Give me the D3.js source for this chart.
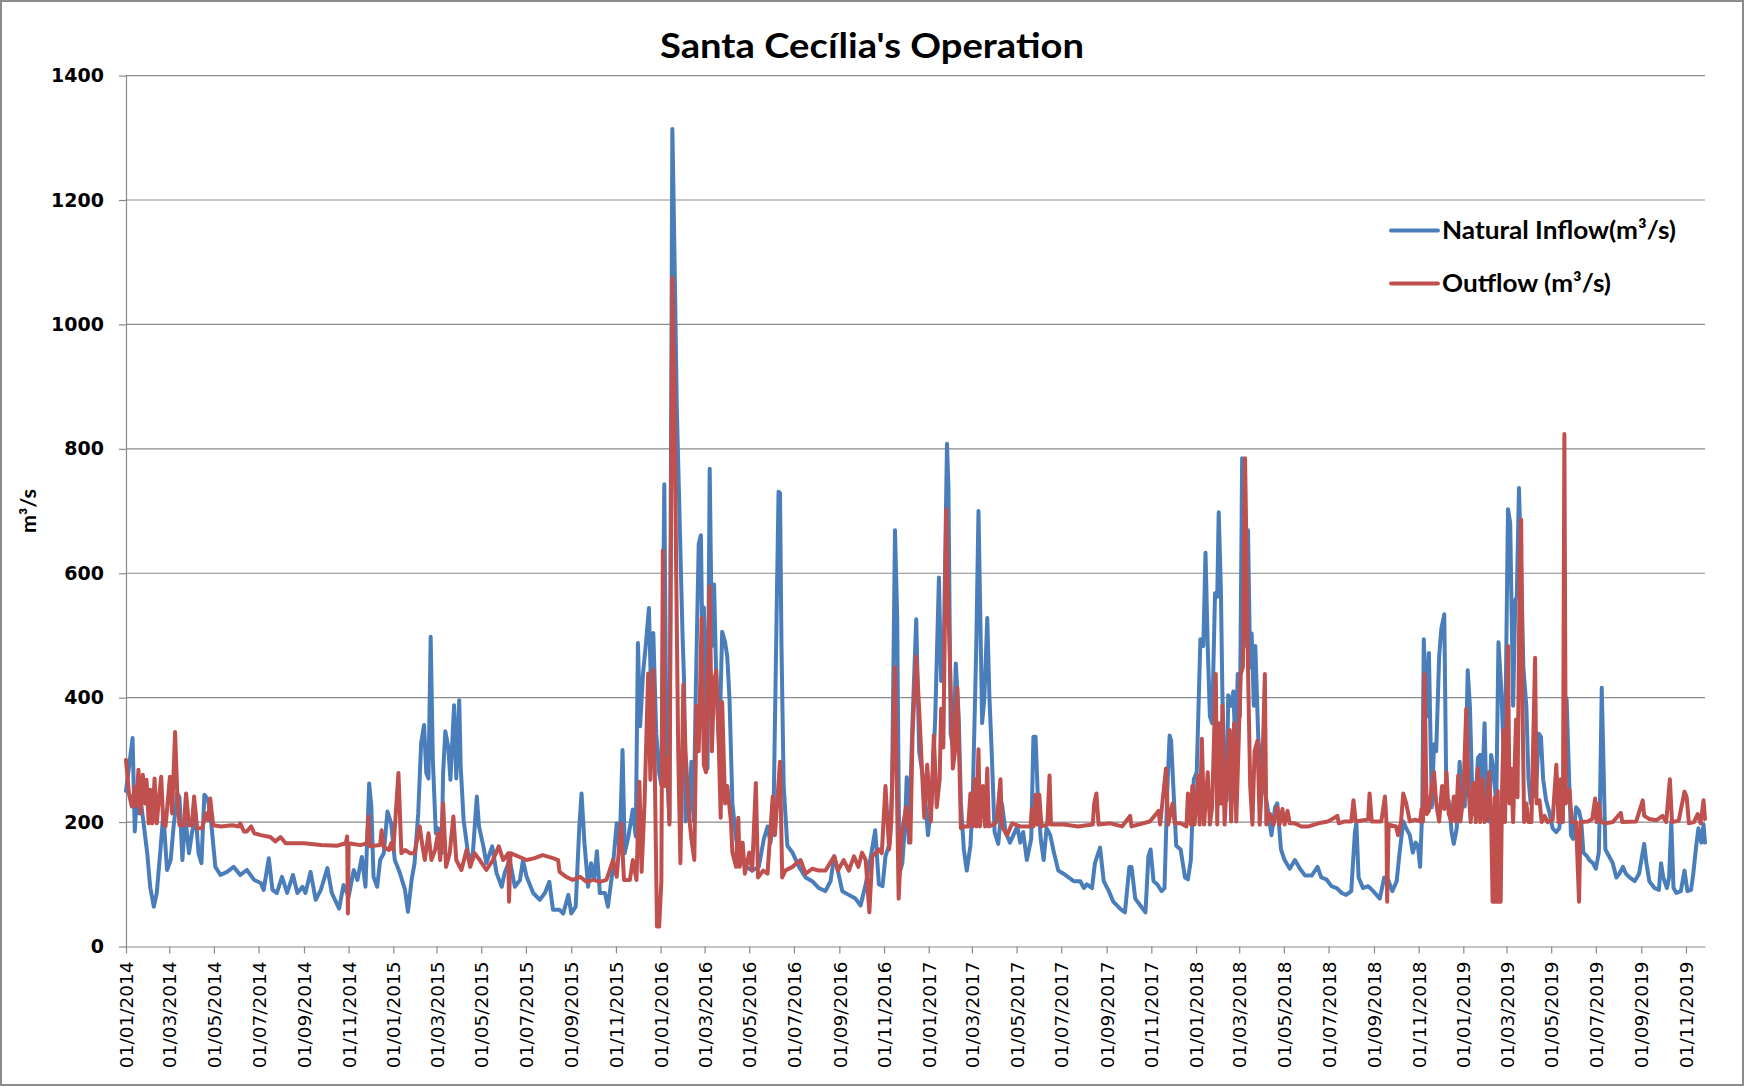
<!DOCTYPE html>
<html>
<head>
<meta charset="utf-8">
<script src="https://cdn.jsdelivr.net/npm/d3@7"></script>
<style>
  html, body { margin: 0; padding: 0; background: #ffffff; }
  svg { display: block; }
</style>
</head>
<body>
<svg id="chart" width="1744" height="1086"></svg>
<script>
// Daily operation of the Santa Cecília reservoir, Jan 2014 – Nov 2019.
// Each point is [days since 1 Jan 2014, flow in m³/s].
const startDate = Date.UTC(2014, 0, 1);
const lastDay = 2156;

const chartTitle = "Santa Cecília's Operation";
const yAxisTitle = "m³/s";
const seriesNames = ["Natural Inflow(m³/s)", "Outflow (m³/s)"];
const yTickValues = [0, 200, 400, 600, 800, 1000, 1200, 1400];

const inflow2014 = [[0,250],[9,335],[12,185],[15,246],[18,214],[20,236],[24,198],[29,150],[33,96],[38,64],[42,86],[47,155],[51,214],[56,123],[61,139],[65,193],[70,246],[73,240],[77,139],[81,209],[86,150],[90,182],[95,214],[99,150],[103,134],[107,244],[112,236],[116,203],[122,128],[129,115],[138,120],[147,128],[156,115],[165,123],[175,107],[184,102],[188,91],[195,142],[200,91],[206,86],[213,112],[220,86],[228,115],[234,86],[241,96],[245,86],[252,120],[259,75],[266,91],[275,126],[281,86],[291,61],[297,99],[304,80],[311,123],[316,107],[322,144],[327,96],[332,262],[335,225],[338,112],[343,96],[347,139],[352,150],[357,217],[362,198]];
const inflow2015 = [[367,139],[374,118],[381,91],[385,56],[390,107],[394,134],[399,214],[403,327],[407,356],[410,279],[413,270],[416,498],[419,300],[423,182],[426,190],[431,150],[433,279],[436,346],[440,321],[443,268],[448,388],[451,270],[455,396],[457,289],[461,203],[467,150],[473,139],[479,241],[482,193],[488,161],[492,134],[500,161],[506,118],[513,96],[517,118],[524,139],[531,96],[538,107],[542,139],[547,112],[556,86],[565,75],[572,86],[578,104],[583,59],[592,59],[597,53],[604,83],[608,53],[614,64],[619,193],[622,246],[626,166],[631,96],[635,134],[639,107],[643,153],[647,86],[654,86],[658,64],[664,118],[670,198],[674,155],[678,316],[681,150],[686,177],[692,220],[696,177],[699,488],[702,354],[706,439],[710,488],[714,544],[717,407],[720,504],[724,343],[728,279]];
const inflow2016 = [[731,260],[735,743],[738,314],[742,201],[746,1314],[747,1250],[750,1030],[752,870],[760,497],[762,427],[764,201],[769,218],[772,297],[775,201],[778,410],[782,647],[785,661],[787,483],[789,545],[792,416],[794,286],[797,768],[800,483],[803,582],[806,427],[810,314],[814,506],[818,489],[821,466],[824,399],[828,230],[833,173],[837,151],[846,128],[855,122],[864,128],[871,173],[876,193],[880,167],[884,201],[888,506],[891,731],[893,729],[895,483],[898,258],[903,162],[910,151],[919,128],[928,111],[937,105],[946,94],[955,89],[962,105],[967,145],[972,122],[978,89],[987,83],[996,77],[1003,66],[1010,100],[1017,145],[1023,187],[1028,100],[1033,97],[1037,145],[1043,167],[1046,258],[1050,669],[1053,528],[1056,117],[1060,134],[1064,201],[1066,272],[1069,167],[1074,365],[1079,526],[1083,314],[1090,258],[1095,179]];
const inflow2017 = [[1100,230],[1105,370],[1110,593],[1113,427],[1116,433],[1121,808],[1123,737],[1126,342],[1130,314],[1133,455],[1137,370],[1140,230],[1144,156],[1148,122],[1153,162],[1156,230],[1161,483],[1164,700],[1169,359],[1172,399],[1176,528],[1179,399],[1182,314],[1186,184],[1191,165],[1196,230],[1201,184],[1207,167],[1217,193],[1221,167],[1225,184],[1230,139],[1236,173],[1239,337],[1242,337],[1245,241],[1249,173],[1253,139],[1257,190],[1262,179],[1267,151],[1273,122],[1280,117],[1287,111],[1294,105],[1303,105],[1308,94],[1312,100],[1319,94],[1323,134],[1330,159],[1335,105],[1342,89],[1348,72],[1358,60],[1364,55],[1370,128],[1373,128],[1378,77],[1385,66],[1392,55],[1396,145],[1399,156],[1403,105],[1408,100],[1414,89],[1418,94],[1422,258],[1425,339],[1427,331],[1430,258],[1434,162],[1440,156],[1446,111],[1450,108],[1454,139],[1458,269]];
const inflow2018 = [[1462,280],[1467,494],[1471,483],[1474,633],[1477,483],[1480,370],[1483,359],[1487,568],[1490,562],[1492,698],[1495,573],[1497,410],[1499,314],[1503,235],[1505,404],[1509,387],[1512,410],[1515,314],[1518,438],[1521,370],[1524,785],[1527,782],[1530,483],[1532,669],[1535,449],[1537,503],[1540,387],[1542,483],[1546,337],[1550,275],[1554,258],[1560,213],[1564,179],[1569,224],[1572,230],[1577,156],[1582,139],[1589,125],[1596,139],[1603,125],[1610,114],[1619,114],[1627,128],[1632,111],[1639,108],[1646,97],[1653,94],[1660,86],[1666,83],[1673,89],[1678,184],[1680,198],[1683,111],[1689,94],[1696,97],[1703,89],[1712,77],[1718,111],[1723,108],[1729,89],[1735,105],[1739,151],[1744,201],[1748,190],[1753,179],[1757,151],[1761,167],[1764,162],[1767,128],[1770,224],[1772,494],[1776,370],[1779,472],[1783,224],[1786,325],[1789,314],[1793,466],[1796,511],[1800,534],[1803,224],[1806,235],[1810,184],[1813,165],[1817,190],[1821,297],[1824,245]];
const inflow2019 = [[1828,225],[1832,444],[1835,387],[1839,213],[1842,218],[1846,303],[1849,308],[1852,258],[1855,359],[1858,213],[1861,201],[1864,308],[1867,286],[1871,230],[1874,489],[1878,410],[1881,314],[1884,410],[1887,703],[1890,681],[1894,387],[1897,557],[1899,562],[1902,737],[1905,607],[1908,449],[1912,387],[1915,269],[1918,230],[1922,286],[1925,241],[1929,342],[1932,337],[1935,269],[1939,235],[1943,218],[1948,190],[1953,184],[1957,190],[1961,230],[1964,258],[1967,399],[1970,286],[1973,179],[1976,173],[1980,224],[1984,218],[1987,201],[1990,151],[1995,145],[1998,139],[2003,134],[2007,125],[2011,151],[2013,258],[2015,416],[2017,314],[2020,156],[2025,145],[2030,134],[2035,111],[2039,117],[2044,128],[2048,117],[2053,111],[2060,105],[2066,117],[2070,145],[2073,165],[2076,134],[2080,105],[2087,94],[2093,91],[2096,134],[2099,111],[2104,94],[2107,111],[2110,201],[2113,94],[2117,86],[2123,89],[2128,122],[2132,89],[2137,91],[2140,117],[2144,162],[2147,190],[2151,167],[2154,196],[2156,167]];

const outflow2014 = [[0,300],[4,246],[8,225],[12,257],[14,225],[17,284],[20,214],[23,276],[26,230],[28,268],[31,198],[33,252],[36,198],[39,270],[42,198],[44,225],[48,273],[51,198],[54,193],[60,273],[63,214],[67,345],[70,246],[73,195],[79,195],[82,246],[86,195],[90,195],[93,241],[97,190],[104,190],[109,214],[112,203],[115,238],[119,195],[130,193],[145,195],[154,193],[156,198],[161,185],[165,185],[171,193],[175,182],[184,179],[197,176],[204,169],[211,176],[218,166],[243,166],[266,163],[288,162],[300,166],[302,177],[303,53],[304,166],[320,163],[329,166],[331,209],[333,161],[347,163],[349,187],[352,160],[359,155],[362,166]];
const outflow2015 = [[365,155],[372,279],[376,150],[381,155],[388,150],[394,150],[401,193],[405,160],[408,139],[413,182],[417,139],[422,155],[426,182],[429,139],[433,230],[437,128],[442,150],[447,209],[451,139],[458,123],[465,155],[470,128],[476,150],[483,139],[492,123],[501,139],[509,161],[515,139],[519,145],[522,150],[523,72],[525,150],[547,139],[558,142],[569,147],[583,142],[590,139],[592,120],[601,112],[610,107],[620,112],[629,104],[638,107],[647,104],[656,107],[665,139],[670,112],[676,198],[680,107],[688,107],[692,139],[697,107],[701,265],[704,120],[708,230],[713,439],[716,268],[720,445],[722,286],[725,32],[728,32]];
const outflow2016 = [[731,105],[733,636],[736,258],[739,303],[742,196],[746,1075],[749,880],[751,630],[754,314],[757,134],[761,421],[764,314],[769,207],[772,173],[776,139],[779,387],[782,314],[786,528],[789,292],[792,280],[797,579],[800,314],[803,427],[806,444],[809,342],[812,207],[814,393],[818,230],[821,258],[826,201],[828,151],[833,128],[836,207],[838,128],[842,167],[845,117],[851,151],[855,122],[860,263],[863,111],[870,122],[876,117],[883,241],[886,179],[893,297],[896,111],[900,122],[910,128],[921,139],[928,117],[937,125],[946,122],[955,122],[967,145],[972,122],[980,139],[987,122],[994,145],[1000,128],[1005,151],[1010,139],[1015,55],[1019,145],[1028,156],[1032,150],[1037,258],[1042,156],[1045,201],[1050,449],[1055,77],[1059,179],[1065,224],[1071,167],[1074,342],[1079,466],[1083,382],[1087,280],[1090,207],[1094,292]];
const outflow2017 = [[1099,201],[1103,339],[1107,224],[1111,269],[1113,382],[1116,320],[1120,703],[1123,540],[1126,416],[1129,286],[1132,314],[1135,416],[1138,292],[1140,190],[1144,193],[1150,193],[1153,246],[1156,193],[1159,269],[1161,193],[1164,317],[1166,193],[1170,258],[1173,193],[1176,286],[1178,193],[1185,196],[1189,201],[1194,269],[1196,193],[1203,179],[1210,198],[1221,193],[1235,193],[1237,221],[1239,193],[1242,244],[1244,196],[1247,244],[1250,193],[1258,196],[1261,275],[1263,196],[1280,196],[1300,193],[1320,196],[1322,230],[1325,246],[1328,196],[1344,198],[1360,193],[1371,210],[1373,193],[1398,201],[1410,218],[1412,196],[1420,286],[1423,196],[1429,230],[1432,198],[1440,198],[1448,193],[1450,246],[1454,196],[1456,258],[1459,196]];
const outflow2018 = [[1464,275],[1466,196],[1469,334],[1472,196],[1477,280],[1480,196],[1483,224],[1488,438],[1490,196],[1492,359],[1495,230],[1497,387],[1500,196],[1504,286],[1507,348],[1509,201],[1513,359],[1516,201],[1520,359],[1522,438],[1525,449],[1528,785],[1530,630],[1532,449],[1535,258],[1538,196],[1541,314],[1545,331],[1548,196],[1551,258],[1555,438],[1557,196],[1562,213],[1567,196],[1572,224],[1575,196],[1579,221],[1582,196],[1586,218],[1589,198],[1596,198],[1605,193],[1615,193],[1628,198],[1641,201],[1650,207],[1654,210],[1656,198],[1664,201],[1673,201],[1676,235],[1679,201],[1696,204],[1698,246],[1701,201],[1714,201],[1719,241],[1721,201],[1722,72],[1724,196],[1734,193],[1737,179],[1741,201],[1744,246],[1748,230],[1753,201],[1760,204],[1767,201],[1769,221],[1771,201],[1773,438],[1776,213],[1779,218],[1783,258],[1786,280],[1789,230],[1793,201],[1797,258],[1800,221],[1803,280],[1806,213],[1810,201],[1813,241],[1816,201],[1819,275],[1822,201]];
const outflow2019 = [[1826,241],[1830,382],[1833,258],[1836,200],[1840,263],[1843,200],[1846,286],[1849,200],[1852,269],[1855,200],[1858,205],[1861,280],[1864,210],[1866,72],[1868,72],[1869,240],[1870,72],[1872,72],[1873,250],[1874,72],[1877,72],[1879,258],[1881,348],[1883,200],[1887,483],[1889,230],[1891,286],[1894,200],[1898,365],[1900,240],[1903,607],[1905,686],[1907,370],[1909,200],[1912,230],[1915,200],[1919,200],[1924,464],[1926,230],[1930,235],[1933,200],[1937,210],[1941,200],[1948,204],[1953,292],[1956,200],[1959,269],[1962,200],[1964,824],[1966,230],[1971,252],[1974,200],[1980,200],[1984,72],[1986,200],[1996,201],[2002,205],[2006,238],[2008,200],[2011,230],[2014,200],[2021,198],[2030,200],[2041,215],[2043,200],[2062,201],[2071,235],[2073,210],[2080,205],[2090,203],[2098,210],[2103,200],[2108,269],[2111,200],[2120,202],[2128,249],[2131,240],[2134,198],[2141,200],[2146,213],[2150,198],[2154,235],[2156,205]];

const inflow = [].concat(inflow2014, inflow2015, inflow2016, inflow2017, inflow2018, inflow2019);
const outflow = [].concat(outflow2014, outflow2015, outflow2016, outflow2017, outflow2018, outflow2019);

const dayToDate = d => new Date(startDate + d * 86400000);

// ---- layout ----
const W = 1744, H = 1086;
const plot = { left: 126, right: 1705, top: 75.6, bottom: 946.5 };
const gridColor = "#8a8a8a";
const inflowColor = "#4a7ebb";
const outflowColor = "#c0504d";

const svg = d3.select("#chart");

svg.append("rect")
  .attr("x", 1).attr("y", 1).attr("width", W - 2).attr("height", H - 2)
  .attr("fill", "#ffffff").attr("stroke", "#8c8c8c").attr("stroke-width", 2);

const x = d3.scaleUtc()
  .domain([dayToDate(0), dayToDate(lastDay)])
  .range([plot.left, plot.right]);

const y = d3.scaleLinear()
  .domain([0, 1400])
  .range([plot.bottom, plot.top]);

// horizontal gridlines
svg.append("g")
  .selectAll("line")
  .data(yTickValues.filter(v => v > 0))
  .join("line")
  .attr("x1", plot.left).attr("x2", plot.right)
  .attr("y1", d => y(d)).attr("y2", d => y(d))
  .attr("stroke", gridColor).attr("stroke-width", 1.2);

// y axis
const yAxis = svg.append("g")
  .attr("transform", `translate(${plot.left},0)`)
  .call(d3.axisLeft(y).tickValues(yTickValues).tickFormat(d3.format("d"))
    .tickSize(7).tickSizeOuter(0).tickPadding(15));
yAxis.select(".domain").attr("stroke", gridColor).attr("stroke-width", 1.2);
yAxis.selectAll(".tick line").attr("stroke", gridColor).attr("stroke-width", 1.2);
yAxis.selectAll(".tick text")
  .attr("fill", "#000")
  .style("font-family", "'DejaVu Sans', Verdana, sans-serif")
  .style("font-weight", "bold")
  .style("font-size", "19px");

// x axis: a tick on the first of every second month
const xAxis = svg.append("g")
  .attr("transform", `translate(0,${plot.bottom})`)
  .call(d3.axisBottom(x)
    .ticks(d3.utcMonth.every(2))
    .tickFormat(d3.utcFormat("%d/%m/%Y"))
    .tickSize(7).tickSizeOuter(0));
xAxis.select(".domain").attr("stroke", gridColor).attr("stroke-width", 1.2);
xAxis.selectAll(".tick line").attr("stroke", gridColor).attr("stroke-width", 1.2);
xAxis.selectAll(".tick text")
  .attr("fill", "#000")
  .attr("transform", "rotate(-90)")
  .attr("text-anchor", "end")
  .attr("x", -15)
  .attr("y", 0)
  .attr("dy", "0.36em")
  .style("font-family", "'DejaVu Sans', Verdana, sans-serif")
  .style("font-size", "18.5px");

// series
const line = d3.line()
  .x(d => x(dayToDate(d[0])))
  .y(d => y(d[1]));

const sortByDay = arr => arr.slice().sort((a, b) => a[0] - b[0]);

svg.append("path")
  .datum(sortByDay(inflow))
  .attr("d", line)
  .attr("fill", "none")
  .attr("stroke", inflowColor)
  .attr("stroke-width", 4)
  .attr("stroke-linejoin", "round")
  .attr("stroke-linecap", "round");

svg.append("path")
  .datum(sortByDay(outflow))
  .attr("d", line)
  .attr("fill", "none")
  .attr("stroke", outflowColor)
  .attr("stroke-width", 4)
  .attr("stroke-linejoin", "round")
  .attr("stroke-linecap", "round");

// title
const headFont = "Lato, 'Open Sans', sans-serif";
svg.append("text")
  .attr("x", W / 2).attr("y", 58)
  .attr("text-anchor", "middle")
  .attr("textLength", 424).attr("lengthAdjust", "spacingAndGlyphs")
  .style("font-family", headFont).style("font-weight", "bold").style("font-size", "35px")
  .attr("fill", "#000")
  .text(chartTitle);

// y axis title
svg.append("text")
  .attr("transform", `translate(36,${(plot.top + plot.bottom) / 2}) rotate(-90)`)
  .attr("text-anchor", "middle")
  .attr("textLength", 44).attr("lengthAdjust", "spacingAndGlyphs")
  .style("font-family", headFont).style("font-weight", "bold").style("font-size", "21px")
  .attr("fill", "#000")
  .text(yAxisTitle);

// legend
const legendItems = [
  { name: seriesNames[0], color: inflowColor, y: 230.5, width: 234 },
  { name: seriesNames[1], color: outflowColor, y: 283.5, width: 169 }
];
const legend = svg.append("g");
legend.selectAll("line")
  .data(legendItems)
  .join("line")
  .attr("x1", 1391).attr("x2", 1438)
  .attr("y1", d => d.y).attr("y2", d => d.y)
  .attr("stroke", d => d.color).attr("stroke-width", 3.8)
  .attr("stroke-linecap", "round");
legend.selectAll("text")
  .data(legendItems)
  .join("text")
  .attr("x", 1442).attr("y", d => d.y + 8)
  .attr("textLength", d => d.width).attr("lengthAdjust", "spacingAndGlyphs")
  .style("font-family", headFont).style("font-weight", "bold").style("font-size", "25px")
  .attr("fill", "#000")
  .text(d => d.name);
</script>
</body>
</html>
